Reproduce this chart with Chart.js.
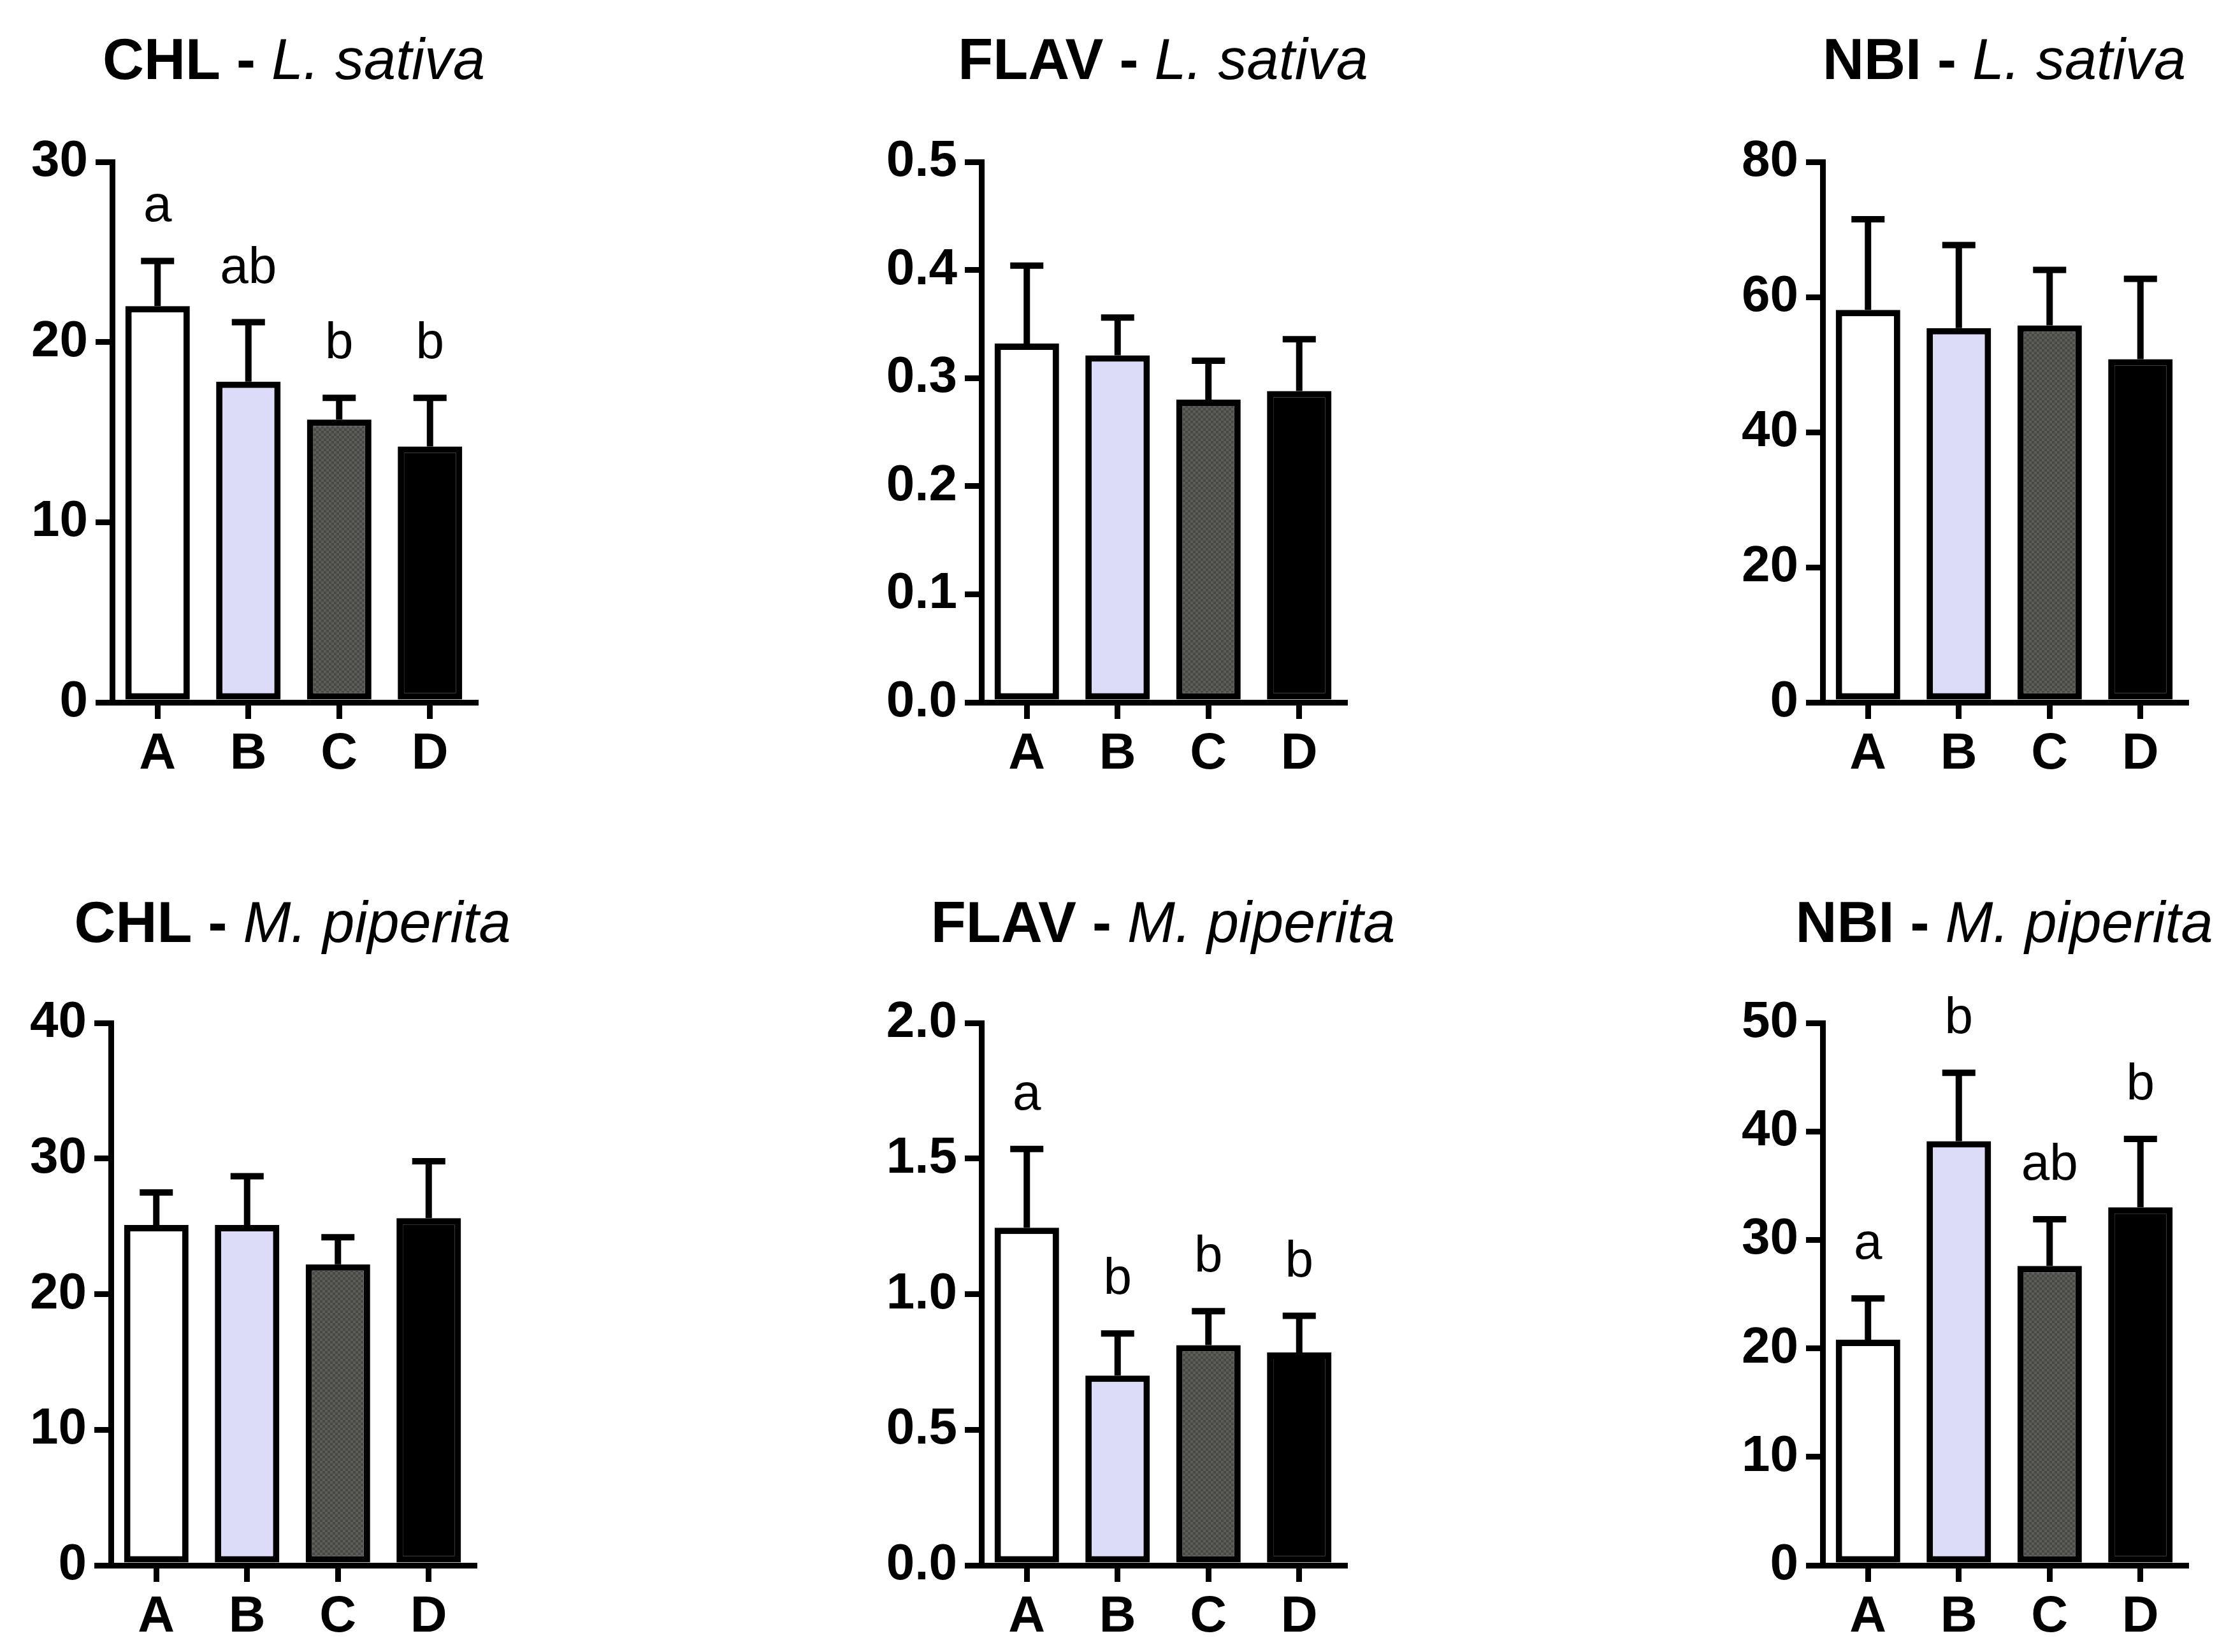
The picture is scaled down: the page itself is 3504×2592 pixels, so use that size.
<!DOCTYPE html>
<html>
<head>
<meta charset="utf-8">
<script src="https://cdn.jsdelivr.net/npm/chart.js@4.4.1/dist/chart.umd.min.js"></script>
<style>
html, body { margin: 0; padding: 0; background: #fff; width: 3504px; height: 2592px; overflow: hidden; }
canvas { position: absolute; }
</style>
</head>
<body>
<canvas id="p1"></canvas>
<canvas id="p2"></canvas>
<canvas id="p3"></canvas>
<canvas id="p4"></canvas>
<canvas id="p5"></canvas>
<canvas id="p6"></canvas>
<script>
// treatments
var categories = ['A', 'B', 'C', 'D'];

// L. sativa
var chlSativaMean = [22.0, 17.8, 15.7, 14.2];
var chlSativaSd = [2.5, 3.3, 1.2, 2.7];
var chlSativaLetters = ['a', 'ab', 'b', 'b'];
var chlSativaTicks = ['0', '10', '20', '30'];

var flavSativaMean = [0.332, 0.321, 0.280, 0.288];
var flavSativaSd = [0.072, 0.035, 0.036, 0.048];
var flavSativaTicks = ['0.0', '0.1', '0.2', '0.3', '0.4', '0.5'];

var nbiSativaMean = [58.1, 55.4, 55.8, 50.8];
var nbiSativaSd = [13.4, 12.3, 8.2, 11.9];
var nbiSativaTicks = ['0', '20', '40', '60', '80'];

// M. piperita
var chlPiperitaMean = [25.1, 25.1, 22.2, 25.6];
var chlPiperitaSd = [2.4, 3.6, 2.0, 4.2];
var chlPiperitaTicks = ['0', '10', '20', '30', '40'];

var flavPiperitaMean = [1.245, 0.700, 0.812, 0.785];
var flavPiperitaSd = [0.290, 0.155, 0.125, 0.135];
var flavPiperitaLetters = ['a', 'b', 'b', 'b'];
var flavPiperitaTicks = ['0.0', '0.5', '1.0', '1.5', '2.0'];

var nbiPiperitaMean = [20.8, 39.1, 27.6, 33.0];
var nbiPiperitaSd = [3.8, 6.3, 4.3, 6.3];
var nbiPiperitaLetters = ['a', 'b', 'ab', 'b'];
var nbiPiperitaTicks = ['0', '10', '20', '30', '40', '50'];

var FONT = '"Liberation Sans", Arial, sans-serif';
var Y_W = 180, X_H = 130, PLOT_W = 570, PAD_R = 140;

// dark checkered fill of group C
function checker() {
    var c = document.createElement('canvas');
    c.width = 8; c.height = 8;
    var g = c.getContext('2d');
    g.fillStyle = '#5e5e55';
    g.fillRect(0, 0, 8, 8);
    g.fillStyle = '#48484a';
    g.fillRect(0, 0, 4, 4);
    g.fillRect(4, 4, 4, 4);
    return g.createPattern(c, 'repeat');
}
var fills = ['#ffffff', '#dcdcf8', checker(), '#000000'];

function makePanel(id, spec) {
    var cv = document.getElementById(id);
    var plotH = spec.zeroY - spec.topY;
    var w = Y_W + PLOT_W + PAD_R;
    var h = (spec.topY - spec.top) + plotH + X_H;
    cv.width = w; cv.height = h;
    cv.style.width = w + 'px'; cv.style.height = h + 'px';
    cv.style.left = (spec.axisX - Y_W) + 'px';
    cv.style.top = spec.top + 'px';

    var extras = {
        id: 'extras' + id,
        afterDatasetsDraw: function (chart) {
            var ctx = chart.ctx, y = chart.scales.y;
            var bars = chart.getDatasetMeta(0).data;
            ctx.save();
            ctx.strokeStyle = '#000';
            ctx.lineWidth = 10;
            ctx.lineCap = 'butt';
            for (var i = 0; i < bars.length; i++) {
                var x = bars[i].x;
                var top = y.getPixelForValue(spec.mean[i] + spec.sd[i]);
                ctx.beginPath();
                ctx.moveTo(x, bars[i].y);
                ctx.lineTo(x, top);
                ctx.moveTo(x - 26, top);
                ctx.lineTo(x + 26, top);
                ctx.stroke();
                if (spec.letters) {
                    ctx.fillStyle = '#000';
                    ctx.font = '80px ' + FONT;
                    ctx.textAlign = 'center';
                    ctx.textBaseline = 'alphabetic';
                    ctx.fillText(spec.letters[i], x, top - 62);
                }
            }
            // title: bold variable, italic species
            var a = chart.chartArea;
            ctx.fillStyle = '#000';
            ctx.textAlign = 'left';
            ctx.font = 'bold 90px ' + FONT;
            var w1 = ctx.measureText(spec.title[0]).width;
            ctx.font = 'italic 90px ' + FONT;
            var w2 = ctx.measureText(spec.title[1]).width;
            var x0 = (a.left + a.right) / 2 - (w1 + w2) / 2;
            ctx.font = 'bold 90px ' + FONT;
            ctx.fillText(spec.title[0], x0, spec.titleBase - spec.top);
            ctx.font = 'italic 90px ' + FONT;
            ctx.fillText(spec.title[1], x0 + w1, spec.titleBase - spec.top);
            ctx.restore();
        }
    };

    var axisGrid = {
        display: true, drawOnChartArea: false, drawTicks: true,
        tickLength: 26, lineWidth: 9, tickWidth: 9, color: '#000', tickColor: '#000'
    };

    new Chart(cv.getContext('2d'), {
        type: 'bar',
        data: {
            labels: categories,
            datasets: [{
                data: spec.mean,
                backgroundColor: fills,
                borderColor: '#000',
                borderWidth: 10,
                borderSkipped: false,
                barPercentage: 0.71,
                categoryPercentage: 1
            }]
        },
        options: {
            responsive: false,
            devicePixelRatio: 1,
            animation: false,
            layout: { padding: { top: spec.topY - spec.top, right: PAD_R, bottom: 0, left: 0 } },
            plugins: { legend: { display: false }, tooltip: { enabled: false }, title: { display: false } },
            scales: {
                x: {
                    offset: true,
                    grid: Object.assign({ offset: false }, axisGrid),
                    border: { display: true, color: '#000', width: 9 },
                    ticks: { color: '#000', padding: 8, maxRotation: 0, autoSkip: false,
                             font: { family: FONT, size: 80, weight: 'bold' } },
                    afterFit: function (s) { s.height = X_H; }
                },
                y: {
                    min: 0, max: spec.max,
                    grid: axisGrid,
                    border: { display: true, color: '#000', width: 9 },
                    ticks: { stepSize: spec.step, color: '#000', padding: 12,
                             font: { family: FONT, size: 80, weight: 'bold' },
                             callback: function (v, i) { return spec.ticks[i]; } },
                    afterFit: function (s) { s.width = Y_W; }
                }
            }
        },
        plugins: [extras]
    });
}

makePanel('p1', { top: 0, axisX: 176, topY: 254, zeroY: 1102, titleBase: 124,
    title: ['CHL - ', 'L. sativa'], mean: chlSativaMean, sd: chlSativaSd,
    letters: chlSativaLetters, ticks: chlSativaTicks, max: 30, step: 10 });
makePanel('p2', { top: 0, axisX: 1540, topY: 254, zeroY: 1102, titleBase: 124,
    title: ['FLAV - ', 'L. sativa'], mean: flavSativaMean, sd: flavSativaSd,
    ticks: flavSativaTicks, max: 0.5, step: 0.1 });
makePanel('p3', { top: 0, axisX: 2860, topY: 254, zeroY: 1102, titleBase: 124,
    title: ['NBI - ', 'L. sativa'], mean: nbiSativaMean, sd: nbiSativaSd,
    ticks: nbiSativaTicks, max: 80, step: 20 });
makePanel('p4', { top: 1340, axisX: 174, topY: 1605, zeroY: 2456, titleBase: 1478,
    title: ['CHL - ', 'M. piperita'], mean: chlPiperitaMean, sd: chlPiperitaSd,
    ticks: chlPiperitaTicks, max: 40, step: 10 });
makePanel('p5', { top: 1340, axisX: 1540, topY: 1605, zeroY: 2456, titleBase: 1478,
    title: ['FLAV - ', 'M. piperita'], mean: flavPiperitaMean, sd: flavPiperitaSd,
    letters: flavPiperitaLetters, ticks: flavPiperitaTicks, max: 2, step: 0.5 });
makePanel('p6', { top: 1340, axisX: 2860, topY: 1605, zeroY: 2456, titleBase: 1478,
    title: ['NBI - ', 'M. piperita'], mean: nbiPiperitaMean, sd: nbiPiperitaSd,
    letters: nbiPiperitaLetters, ticks: nbiPiperitaTicks, max: 50, step: 10 });
</script>
</body>
</html>
